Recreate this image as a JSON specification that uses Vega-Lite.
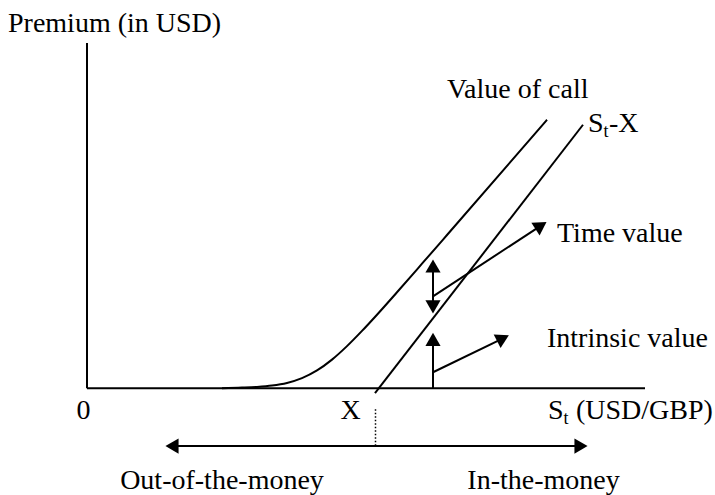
{
  "$schema": "https://vega.github.io/schema/vega-lite/v6.json",
  "width": 715,
  "height": 495,
  "padding": 0,
  "autosize": {"type": "fit", "contains": "padding"},
  "background": "white",
  "config": {"view": {"stroke": null}},
  "datasets": {
    "segments": [
      {"part": "premium axis", "x": 0, "y": 0, "x2": 0, "y2": 69.2},
      {"part": "spot axis", "x": 0, "y": 0, "x2": 111.6, "y2": 0},
      {"part": "St-X", "x": 57.6, "y": -1, "x2": 99.2, "y2": 52.8},
      {"part": "moneyness arrow", "x": 17, "y": -11.6, "x2": 98.8, "y2": -11.6},
      {"part": "time value span", "x": 69.2, "y": 16.3, "x2": 69.2, "y2": 24.5},
      {"part": "intrinsic value span", "x": 69.2, "y": 0, "x2": 69.2, "y2": 9.8},
      {"part": "time value pointer", "x": 69.2, "y": 18.4, "x2": 90.8, "y2": 32.6},
      {"part": "intrinsic value pointer", "x": 69.2, "y": 3.2, "x2": 83.2, "y2": 10}
    ],
    "dotted": [
      {"part": "strike marker", "x": 57.7, "y": -4.2, "x2": 57.7, "y2": -11.6}
    ],
    "call": [
      {"x": 27, "y": 0},
      {"x": 31, "y": 0.12},
      {"x": 34, "y": 0.26},
      {"x": 37, "y": 0.53},
      {"x": 40, "y": 1.06},
      {"x": 43, "y": 2.02},
      {"x": 46, "y": 3.56},
      {"x": 49, "y": 5.73},
      {"x": 52, "y": 8.43},
      {"x": 55, "y": 11.48},
      {"x": 58, "y": 14.73},
      {"x": 62, "y": 19.23},
      {"x": 67, "y": 24.95},
      {"x": 72, "y": 30.7},
      {"x": 92, "y": 53.8}
    ],
    "headsUp": [
      {"x": 69.2, "y": 24.5},
      {"x": 69.2, "y": 9.8}
    ],
    "headsDown": [
      {"x": 69.2, "y": 16.3}
    ],
    "headsLeft": [
      {"x": 17, "y": -11.6}
    ],
    "headsRight": [
      {"x": 98.8, "y": -11.6}
    ],
    "headTime": [
      {"x": 90.8, "y": 32.6}
    ],
    "headIntrinsic": [
      {"x": 83.2, "y": 10}
    ],
    "labelsLeft": [
      {"label": "Premium (in USD)", "x": -15.8, "y": 71.4},
      {"label": "Value of call", "x": 72, "y": 58.2},
      {"label": "S", "x": 100.2, "y": 51.4},
      {"label": "-X", "x": 104.4, "y": 51.4},
      {"label": "Time value", "x": 94, "y": 29.4},
      {"label": "Intrinsic value", "x": 92, "y": 8.2},
      {"label": "S", "x": 92.2, "y": -6.2},
      {"label": "(USD/GBP)", "x": 97.8, "y": -6.2}
    ],
    "labelsCenter": [
      {"label": "0", "x": -0.7, "y": -6.2},
      {"label": "X", "x": 52.7, "y": -6.2},
      {"label": "Out-of-the-money", "x": 27, "y": -20.2},
      {"label": "In-the-money", "x": 91.3, "y": -20.2}
    ],
    "subscripts": [
      {"label": "t", "x": 103.3, "y": 50.4},
      {"label": "t", "x": 95.3, "y": -7.2}
    ]
  },
  "encoding": {
    "x": {"field": "x", "type": "quantitative", "axis": null, "scale": {"domain": [-17.4, 125.6], "nice": false, "zero": false}},
    "y": {"field": "y", "type": "quantitative", "axis": null, "scale": {"domain": [-21.2, 77.8], "nice": false, "zero": false}}
  },
  "layer": [
    {
      "data": {"name": "segments"},
      "mark": {"type": "rule", "color": "black", "strokeWidth": 2},
      "encoding": {"x2": {"field": "x2"}, "y2": {"field": "y2"}}
    },
    {
      "data": {"name": "dotted"},
      "mark": {"type": "rule", "color": "black", "strokeWidth": 1.5, "strokeDash": [1.5, 2]},
      "encoding": {"x2": {"field": "x2"}, "y2": {"field": "y2"}}
    },
    {
      "data": {"name": "call"},
      "mark": {"type": "line", "color": "black", "strokeWidth": 2, "interpolate": "monotone"}
    },
    {
      "data": {"name": "headsUp"},
      "mark": {"type": "point", "shape": "triangle-up", "filled": true, "color": "black", "opacity": 1, "size": 230, "strokeWidth": 0}
    },
    {
      "data": {"name": "headsDown"},
      "mark": {"type": "point", "shape": "triangle-down", "filled": true, "color": "black", "opacity": 1, "size": 230, "strokeWidth": 0}
    },
    {
      "data": {"name": "headsLeft"},
      "mark": {"type": "point", "shape": "triangle-left", "filled": true, "color": "black", "opacity": 1, "size": 230, "strokeWidth": 0}
    },
    {
      "data": {"name": "headsRight"},
      "mark": {"type": "point", "shape": "triangle-right", "filled": true, "color": "black", "opacity": 1, "size": 230, "strokeWidth": 0}
    },
    {
      "data": {"name": "headTime"},
      "mark": {"type": "point", "shape": "triangle-right", "filled": true, "color": "black", "opacity": 1, "size": 230, "strokeWidth": 0, "angle": -33}
    },
    {
      "data": {"name": "headIntrinsic"},
      "mark": {"type": "point", "shape": "triangle-right", "filled": true, "color": "black", "opacity": 1, "size": 230, "strokeWidth": 0, "angle": -27}
    },
    {
      "data": {"name": "labelsLeft"},
      "mark": {"type": "text", "font": "Liberation Serif", "fontSize": 28, "color": "black", "align": "left", "baseline": "alphabetic"},
      "encoding": {"text": {"field": "label"}}
    },
    {
      "data": {"name": "labelsCenter"},
      "mark": {"type": "text", "font": "Liberation Serif", "fontSize": 28, "color": "black", "align": "center", "baseline": "alphabetic"},
      "encoding": {"text": {"field": "label"}}
    },
    {
      "data": {"name": "subscripts"},
      "mark": {"type": "text", "font": "Liberation Serif", "fontSize": 18, "color": "black", "align": "left", "baseline": "alphabetic"},
      "encoding": {"text": {"field": "label"}}
    }
  ]
}
